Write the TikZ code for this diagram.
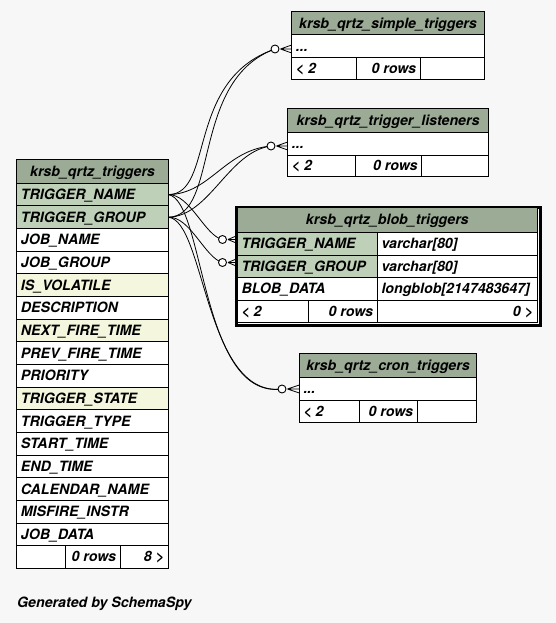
\documentclass[tikz,border=0pt]{standalone}
\usepackage{fontspec}
\setmainfont{TeX Gyre Heros}
\usetikzlibrary{calc}
\definecolor{bg}{HTML}{F7F7F7}
\definecolor{hdr}{HTML}{9BAB96}
\definecolor{keyc}{HTML}{BED1B8}
\definecolor{idx}{HTML}{F4F7DE}
\tikzset{
  cellbox/.style={draw=black, line width=1pt, anchor=north west, inner sep=0pt, outer sep=0pt},
  celltext/.style={inner sep=0pt, font=\fontsize{14.2}{16}\selectfont\bfseries\itshape},
  txtwest/.style={anchor=base west, xshift=4pt, yshift=-5pt},
  txteast/.style={anchor=base east, xshift=-4pt, yshift=-5pt},
  txtcenter/.style={anchor=base, yshift=-5pt},
  edge/.style={draw=black, line width=0.8pt},
  odot/.style={circle, draw=black, fill=white, line width=0.9pt, minimum size=8pt, inner sep=0pt},
}
% #1 name, #2 x, #3 y top, #4 width, #5 height, #6 fill, #7 text, #8 west/east/center
\newcommand\mkcell[8]{%
  \node[cellbox, fill=#6, minimum width=#4pt, minimum height=#5pt] (#1) at (#2,#3) {};
  \node[celltext, txt#8] at (#1.#8) {#7};}
\newcommand\crowfoot[2]{%
  \draw[edge] ($(#1.east)+(1pt,0)$) coordinate (#1k) -- ($(#1k -| #2.west)+(0,-4)$)
    (#1k) -- (#1k -| #2.west)
    (#1k) -- ($(#1k -| #2.west)+(0,4)$);}
\begin{document}
\begin{tikzpicture}[x=1pt,y=-1pt]
\fill[bg] (0,0) rectangle (556,623);
\useasboundingbox (0,0) rectangle (556,623);

% ---- krsb_qrtz_triggers ----
\mkcell{trh}{16.7}{159.3}{151.6}{24}{hdr}{krsb\_qrtz\_triggers}{center}
\foreach \i/\txt/\c in {0/TRIGGER\_NAME/keyc,1/TRIGGER\_GROUP/keyc,2/JOB\_NAME/white,3/JOB\_GROUP/white,4/IS\_VOLATILE/idx,5/DESCRIPTION/white,6/NEXT\_FIRE\_TIME/idx,7/PREV\_FIRE\_TIME/white,8/PRIORITY/white,9/TRIGGER\_STATE/idx,10/TRIGGER\_TYPE/white,11/START\_TIME/white,12/END\_TIME/white,13/CALENDAR\_NAME/white,14/MISFIRE\_INSTR/white,15/JOB\_DATA/white}{
  \pgfmathsetmacro\yy{183.3+22.647*\i}
  \mkcell{tr\i}{16.7}{\yy}{151.6}{22.65}{\c}{\txt}{west}
}
\mkcell{trf1}{16.7}{545.65}{49}{22.65}{white}{}{west}
\mkcell{trf2}{65.7}{545.65}{54.6}{22.65}{white}{0 rows}{east}
\mkcell{trf3}{120.3}{545.65}{48}{22.65}{white}{8 >}{east}

% ---- krsb_qrtz_simple_triggers ----
\mkcell{sh}{291.7}{11.7}{192.6}{23.3}{hdr}{krsb\_qrtz\_simple\_triggers}{center}
\mkcell{sd}{291.7}{35}{192.6}{22.3}{white}{...}{west}
\mkcell{sf1}{291.7}{57.3}{65}{22.7}{white}{< 2}{west}
\mkcell{sf2}{356.7}{57.3}{63.6}{22.7}{white}{0 rows}{east}
\mkcell{sf3}{420.3}{57.3}{64}{22.7}{white}{}{west}

% ---- krsb_qrtz_trigger_listeners ----
\mkcell{lh}{287.7}{108.3}{200.6}{24.4}{hdr}{krsb\_qrtz\_trigger\_listeners}{center}
\mkcell{ld}{287.7}{132.7}{200.6}{22.3}{white}{...}{west}
\mkcell{lf1}{287.7}{155}{68}{21.7}{white}{< 2}{west}
\mkcell{lf2}{355.7}{155}{66}{21.7}{white}{0 rows}{east}
\mkcell{lf3}{421.7}{155}{66.6}{21.7}{white}{}{west}

% ---- krsb_qrtz_blob_triggers ----
\node[draw=black, line width=2.5pt, fill=white, minimum width=304pt, minimum height=118.2pt, anchor=north west, inner sep=0pt] (bo) at (235,206.2) {};
\mkcell{bh}{237.3}{207.3}{300}{25}{hdr}{krsb\_qrtz\_blob\_triggers}{center}
\mkcell{bn}{237.3}{232.3}{140}{22.7}{keyc}{TRIGGER\_NAME}{west}
\mkcell{bnt}{377.3}{232.3}{160}{22.7}{white}{varchar[80]}{west}
\mkcell{bg}{237.3}{255}{140}{22.3}{keyc}{TRIGGER\_GROUP}{west}
\mkcell{bgt}{377.3}{255}{160}{22.3}{white}{varchar[80]}{west}
\mkcell{bd}{237.3}{277.3}{140}{22.7}{white}{BLOB\_DATA}{west}
\mkcell{bdt}{377.3}{277.3}{160}{22.7}{white}{longblob[2147483647]}{west}
\mkcell{bf1}{237.3}{300}{71}{22.7}{white}{< 2}{west}
\mkcell{bf2}{308.3}{300}{69}{22.7}{white}{0 rows}{east}
\mkcell{bf3}{377.3}{300}{160}{22.7}{white}{0 >}{east}

% ---- krsb_qrtz_cron_triggers ----
\mkcell{ch}{299.3}{353.3}{177.4}{24.4}{hdr}{krsb\_qrtz\_cron\_triggers}{center}
\mkcell{cd}{299.3}{377.7}{177.4}{22.3}{white}{...}{west}
\mkcell{cf1}{299.3}{400}{60}{22.7}{white}{< 2}{west}
\mkcell{cf2}{359.3}{400}{58}{22.7}{white}{0 rows}{east}
\mkcell{cf3}{417.3}{400}{59.4}{22.7}{white}{}{west}

% ---- connectors ----
\coordinate (cs) at (275,49);
\coordinate (cl) at (271,146);
\coordinate (cb1) at (222.5,239.5);
\coordinate (cb2) at (222.5,262.5);
\coordinate (cc) at (282,389);

\draw[edge] (tr0.east) .. controls (215,194) and (185,80) .. (cs);
\draw[edge] (tr1.east) .. controls (220,216) and (190,80) .. (cs);
\draw[edge] (tr0.east) .. controls (210,194) and (225,150) .. (cl);
\draw[edge] (tr1.east) .. controls (210,216) and (228,152) .. (cl);
\draw[edge] (tr0.east) .. controls (190,194) and (205,236) .. (cb1);
\draw[edge] (tr1.east) .. controls (190,216) and (205,258) .. (cb2);
\draw[edge] (tr0.east) .. controls (205,200) and (200,400) .. (cc);
\draw[edge] (tr1.east) .. controls (205,220) and (205,398) .. (cc);

\node[odot] (os) at (cs) {};
\node[odot] (ol) at (cl) {};
\node[odot] (ob1) at (cb1) {};
\node[odot] (ob2) at (cb2) {};
\node[odot] (oc) at (cc) {};
\crowfoot{os}{sd}
\crowfoot{ol}{ld}
\crowfoot{ob1}{bn}
\crowfoot{ob2}{bg}
\crowfoot{oc}{cd}

\node[celltext, anchor=base west] (gen) at (17,607.5) {Generated by SchemaSpy};
\end{tikzpicture}
\end{document}
